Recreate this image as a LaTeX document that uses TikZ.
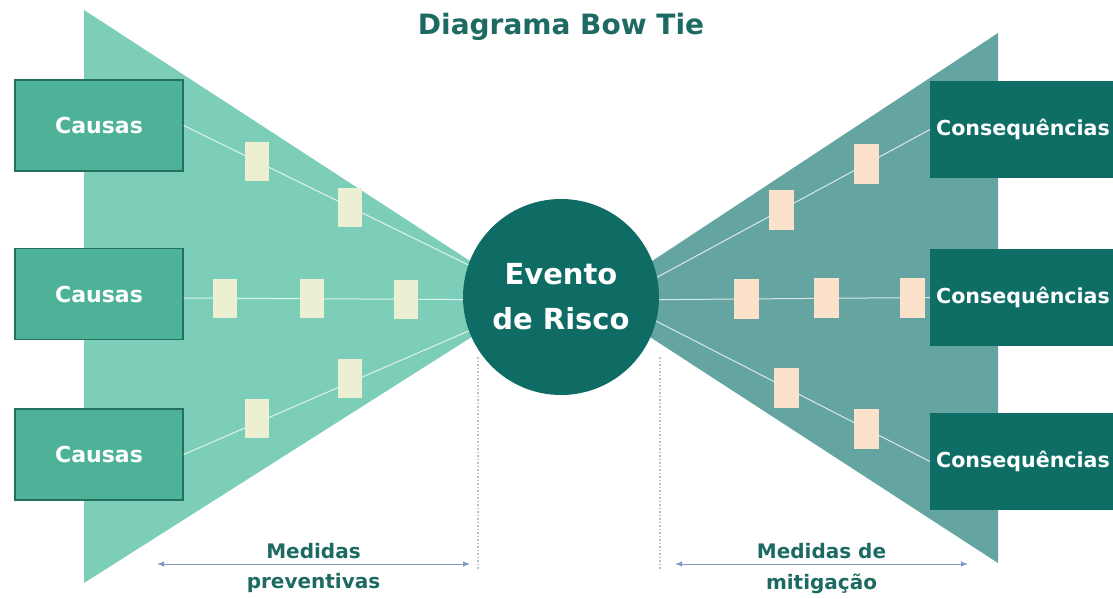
\documentclass[tikz,border=0pt]{standalone}
\usepackage{fontspec}
\setmainfont{DejaVu Sans}
\usetikzlibrary{arrows.meta}
\definecolor{leftfan}{HTML}{7DCEB9}
\definecolor{rightfan}{HTML}{64A5A2}
\definecolor{causafill}{HTML}{4DB298}
\definecolor{causaedge}{HTML}{24705F}
\definecolor{eventfill}{HTML}{0F6C64}
\definecolor{consfill}{HTML}{0E6E66}
\definecolor{lbarfill}{HTML}{EDEFD2}
\definecolor{rbarfill}{HTML}{FCE2CB}
\definecolor{inkteal}{HTML}{1D6A62}
\definecolor{spanblue}{HTML}{7F98C4}
\definecolor{guidegrey}{HTML}{B9C2CB}
\tikzset{
  causa/.style={draw=causaedge, line width=1.3pt, fill=causafill,
    minimum width=168pt, minimum height=91pt, text=white,
    font=\bfseries\fontsize{22}{26}\selectfont},
  conseq/.style={fill=consfill, anchor=west, minimum height=97pt,
    text width=210pt, align=left, inner xsep=6pt, text=white,
    font=\bfseries\fontsize{20.6}{25}\selectfont},
  evento/.style={circle, fill=eventfill, minimum size=196pt, inner sep=0pt,
    text=white, align=center, font=\bfseries\fontsize{29}{45}\selectfont},
  tie/.style={draw=white, draw opacity=.75, line width=1pt},
  lbar/.style={rectangle, fill=lbarfill, minimum width=24pt,
    minimum height=39pt, inner sep=0pt},
  rbar/.style={lbar, fill=rbarfill, minimum width=25pt, minimum height=40pt},
  span/.style={draw=spanblue, line width=1pt,
    {Latex[length=7pt,width=5.5pt]}-{Latex[length=7pt,width=5.5pt]}},
  guide/.style={draw=guidegrey, line width=1.4pt, dash pattern=on 1.5pt off 2pt},
  medida/.style={text=inkteal, font=\bfseries\fontsize{20}{24}\selectfont,
    inner sep=2pt}
}
\begin{document}
\begin{tikzpicture}[x=1pt, y=-1pt]
  \useasboundingbox (0,0) rectangle (1113,598);
  \clip (0,0) rectangle (1113,598);
  % the two fans
  \fill[leftfan] (84,10) -- (530,300) -- (84,583) -- cycle;
  \fill[rightfan] (998,33) -- (593,300) -- (998,563) -- cycle;
  \coordinate (lmeet) at (540,300);
  \coordinate (rmeet) at (615,300);
  \node[font=\bfseries\fontsize{28}{32}\selectfont, text=inkteal]
    (title) at (561,27) {Diagrama Bow Tie};
  % causes and consequences
  \node[causa] (c1) at (99,125.5) {Causas};
  \node[causa] (c2) at (99,294) {Causas};
  \node[causa] (c3) at (99,454.5) {Causas};
  \node[conseq] (q1) at (930,129.5) {Consequências};
  \node[conseq] (q2) at (930,297.5) {Consequências};
  \node[conseq] (q3) at (930,461.5) {Consequências};
  % threat lines with preventive barriers
  \draw[tie] (c1.east) -- (lmeet)
    node[lbar, pos=.207] (b11) {} node[lbar, pos=.468] (b12) {};
  \draw[tie] ([yshift=-4pt]c2.east) -- (lmeet)
    node[lbar, pos=.115] (b21) {} node[lbar, pos=.361] (b22) {}
    node[lbar, pos=.625] (b23) {};
  \draw[tie] (c3.east) -- (lmeet)
    node[lbar, pos=.207, yshift=4pt] (b31) {}
    node[lbar, pos=.468, yshift=4pt] (b32) {};
  % consequence lines with mitigation barriers
  \draw[tie] (rmeet) -- (q1.west)
    node[rbar, pos=.527] (m11) {} node[rbar, pos=.797] (m12) {};
  \draw[tie] (rmeet) -- (q2.west)
    node[rbar, pos=.416] (m21) {} node[rbar, pos=.67] (m22) {}
    node[rbar, pos=.943] (m23) {};
  \draw[tie] (rmeet) -- (q3.west)
    node[rbar, pos=.543] (m31) {} node[rbar, pos=.797] (m32) {};
  % the event
  \node[evento] (ev) at (561,297) {Evento\\de Risco};
  % measures
  \draw[guide] (478,357) -- (478,570);
  \draw[guide] (660,357) -- (660,570);
  \draw[span] (157,564) -- (470,564)
    node[medida, midway, above=3pt] (mp1) {Medidas}
    node[medida, midway, below=7pt] (mp2) {preventivas};
  \draw[span] (675,564) -- (968,564)
    node[medida, midway, above=3pt] (mm1) {Medidas de}
    node[medida, midway, below=7pt] (mm2) {mitigação};
\end{tikzpicture}
\end{document}
